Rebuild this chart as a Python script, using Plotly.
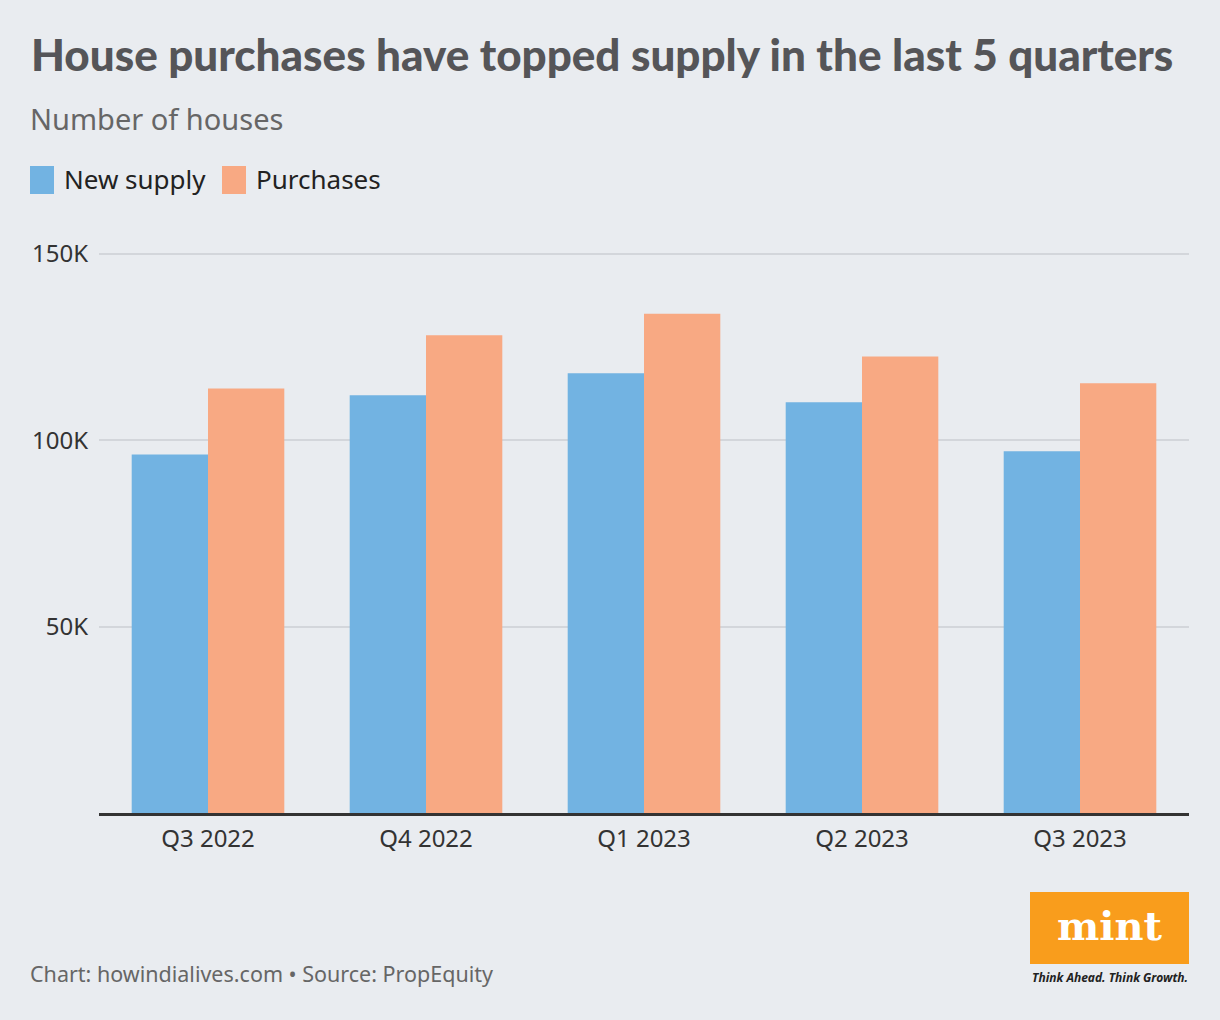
import plotly.graph_objects as go

quarters = ["Q3 2022", "Q4 2022", "Q1 2023", "Q2 2023", "Q3 2023"]
new_supply = [96200, 112100, 118000, 110200, 97100]
purchases = [113900, 128200, 134000, 122500, 115300]
y_ticks = [50000, 100000, 150000]
y_tick_labels = ["50K", "100K", "150K"]

BG = "#E9ECF0"
BLUE = "#72B3E2"
ORANGE = "#F8A983"

# plot area in pixels
PL, PR, PT, PB = 99, 1189, 244, 813
PW, PH = PR - PL, PB - PT
YMAX = 150000 * PH / (PB - 254)

fig = go.Figure()
fig.add_trace(go.Bar(x=quarters, y=new_supply, name="New supply", marker_color=BLUE, marker_line_width=0))
fig.add_trace(go.Bar(x=quarters, y=purchases, name="Purchases", marker_color=ORANGE, marker_line_width=0))

fig.update_layout(
    width=1220, height=1020,
    paper_bgcolor=BG, plot_bgcolor=BG,
    margin=dict(l=PL, r=1220 - PR, t=PT, b=1020 - PB),
    barmode="group", bargap=0.3, bargroupgap=0,
    showlegend=False,
    font=dict(family="Noto Sans", color="#333333"),
)
fig.update_xaxes(
    showline=True, linecolor="#333333", linewidth=3,
    tickfont=dict(size=24, color="#333333", family="Noto Sans"),
    ticks="", ticklabelstandoff=2, fixedrange=True,
)
fig.update_yaxes(
    range=[0, YMAX], tickvals=y_ticks, ticktext=y_tick_labels,
    showgrid=True, gridcolor="#D3D6DB", gridwidth=2,
    zeroline=False, showline=False,
    tickfont=dict(size=24, color="#333333", family="Noto Sans"),
    ticklabelstandoff=10, fixedrange=True,
)

def px_x(px):
    return (px - PL) / PW
def px_y(py):
    return (PB - py) / PH

# Title, subtitle
fig.add_annotation(text="House purchases have topped supply in the last 5 quarters",
                   xref="paper", yref="paper", x=px_x(29), y=px_y(54),
                   xanchor="left", yanchor="middle", showarrow=False,
                   font=dict(size=44, color="#555558", family="Lato", weight=900))
fig.add_annotation(text="Number of houses",
                   xref="paper", yref="paper", x=px_x(28), y=px_y(119),
                   xanchor="left", yanchor="middle", showarrow=False,
                   font=dict(size=29, color="#666666", family="Noto Sans"))

# Legend (manual)
for x0, label, col in [(30, "New supply", BLUE), (222, "Purchases", ORANGE)]:
    fig.add_shape(type="rect", xref="paper", yref="paper",
                  x0=px_x(x0), x1=px_x(x0 + 24), y0=px_y(194), y1=px_y(166),
                  fillcolor=col, line_width=0)
    fig.add_annotation(text=label, xref="paper", yref="paper",
                       x=px_x(x0 + 32), y=px_y(179), xanchor="left", yanchor="middle",
                       showarrow=False, font=dict(size=26, color="#222222", family="Noto Sans"))

# Footer
fig.add_annotation(text="Chart: howindialives.com • Source: PropEquity",
                   xref="paper", yref="paper", x=px_x(28), y=px_y(973),
                   xanchor="left", yanchor="middle", showarrow=False,
                   font=dict(size=21.5, color="#666666", family="Noto Sans"))

# Logo
fig.add_shape(type="rect", xref="paper", yref="paper",
              x0=px_x(1030), x1=px_x(1189), y0=px_y(964), y1=px_y(892),
              fillcolor="#F99D1C", line_width=0)
fig.add_annotation(text="<b>mint</b>", xref="paper", yref="paper",
                   x=px_x(1109.5), y=px_y(925), xanchor="center", yanchor="middle",
                   showarrow=False, font=dict(size=40, color="white", family="DejaVu Serif"))
fig.add_annotation(text="<b><i>Think Ahead. Think Growth.</i></b>", xref="paper", yref="paper",
                   x=px_x(1109.5), y=px_y(977), xanchor="center", yanchor="middle",
                   showarrow=False, font=dict(size=12, color="#222222", family="Noto Sans"))

fig.write_html("out.html")
